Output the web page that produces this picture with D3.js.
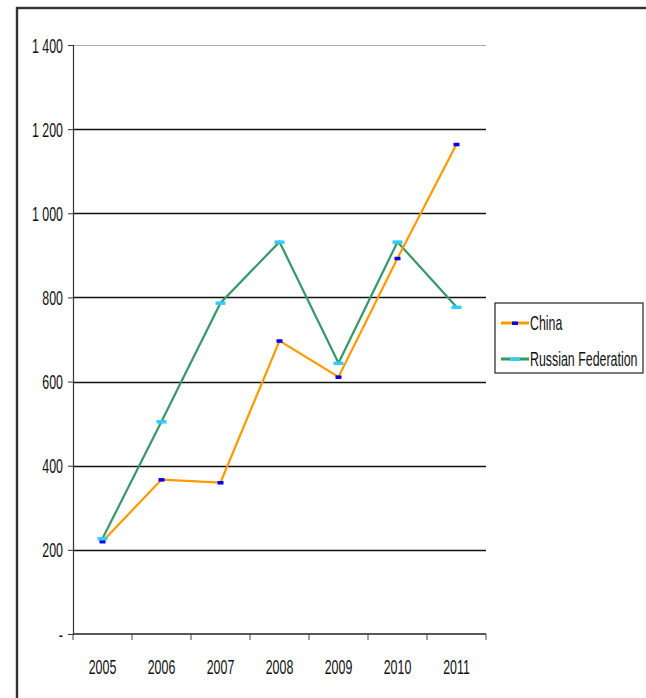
<!DOCTYPE html>
<html>
<head>
<meta charset="utf-8">
<script src="https://cdn.jsdelivr.net/npm/d3@7"></script>
<style>
  body { margin: 0; background: #fff; }
  svg text { font-family: "Liberation Sans", Arial, sans-serif; fill: #111; }
</style>
</head>
<body>
<div id="chart"></div>
<script>
// Chart data
const years = ['2005', '2006', '2007', '2008', '2009', '2010', '2011'];
const chinaValues = [220, 367, 360, 697, 611, 893, 1164];
const russiaValues = [227, 505, 787, 932, 644, 932, 777];
const yTicks = [0, 200, 400, 600, 800, 1000, 1200, 1400];

const seriesList = [
    { name: 'China', values: chinaValues, line: '#ff9900', marker: '#0000ee', mw: 6 },
    { name: 'Russian Federation', values: russiaValues, line: '#339966', marker: '#33ccff', mw: 10 }
];

const W = 646, H = 698;
const FONT = 20;     // text is drawn narrow, like the squeezed original
const SQUEEZE = 0.62;

const svg = d3.select('#chart').append('svg')
    .attr('width', W)
    .attr('height', H);

// place a squeezed text at x, y
function narrow(sel, px, py) {
    sel.attr('x', 0).attr('y', 0)
        .attr('transform', (d, i) => `translate(${px(d, i)},${py(d, i)}) scale(${SQUEEZE},1)`)
        .style('font-size', FONT + 'px');
}

// outer frame
svg.append('rect')
    .attr('x', 17).attr('y', 8)
    .attr('width', W + 20).attr('height', H + 20)
    .attr('fill', 'none')
    .attr('stroke', '#333')
    .attr('stroke-width', 2.4);

const x = d3.scaleBand()
    .domain(years)
    .range([73, 486])
    .padding(0);

const y = d3.scaleLinear()
    .domain([0, 1400])
    .range([634, 45]);

const fmt = d => d === 0 ? '-' : d3.format(',')(d).replace(',', ' ');

// gridlines
svg.append('g')
    .selectAll('line')
    .data(yTicks.filter(d => d > 0))
    .enter()
    .append('line')
    .attr('x1', x.range()[0])
    .attr('x2', x.range()[1])
    .attr('y1', d => Math.round(y(d)) + 0.5)
    .attr('y2', d => Math.round(y(d)) + 0.5)
    .attr('stroke', d => d === 1400 ? '#aaa' : '#111')
    .attr('stroke-width', d => d === 1400 ? 1 : 1.6);

// y axis
const yAxis = svg.append('g')
    .attr('transform', `translate(${x.range()[0]},0)`)
    .call(d3.axisLeft(y).tickValues(yTicks).tickFormat(fmt).tickSize(5));
yAxis.select('.domain').attr('stroke', '#333').attr('stroke-width', 1.2);
yAxis.selectAll('.tick line').attr('stroke', '#333');
yAxis.selectAll('.tick text')
    .attr('dy', null)
    .call(narrow, () => -10, () => 7);

// x axis: ticks on category boundaries
const xg = svg.append('g');
xg.append('line')
    .attr('x1', x.range()[0]).attr('x2', x.range()[1])
    .attr('y1', y(0)).attr('y2', y(0))
    .attr('stroke', '#222').attr('stroke-width', 1.6);
const bounds = years.map(d => x(d)).concat([x.range()[1]]);
xg.selectAll('.xtick')
    .data(bounds)
    .enter()
    .append('line')
    .attr('x1', d => d).attr('x2', d => d)
    .attr('y1', y(0)).attr('y2', y(0) + 6)
    .attr('stroke', '#444');
xg.selectAll('.xlabel')
    .data(years)
    .enter()
    .append('text')
    .attr('text-anchor', 'middle')
    .text(d => d)
    .call(narrow, d => x(d) + x.bandwidth() / 2, () => 674);

// lines
const line = d3.line()
    .x((d, i) => x(years[i]) + x.bandwidth() / 2)
    .y(d => y(d));

seriesList.slice().reverse().forEach(s => {
    svg.append('path')
        .datum(s.values)
        .attr('d', line)
        .attr('fill', 'none')
        .attr('stroke', s.line)
        .attr('stroke-width', 2.2);
});

seriesList.forEach(s => {
    svg.append('g')
        .selectAll('rect')
        .data(s.values)
        .enter()
        .append('rect')
        .attr('x', (d, i) => x(years[i]) + x.bandwidth() / 2 - s.mw / 2)
        .attr('y', d => y(d) - 1.5)
        .attr('width', s.mw)
        .attr('height', 3.5)
        .attr('fill', s.marker);
});

// legend
const legend = svg.append('g').attr('transform', 'translate(495,303)');
legend.append('rect')
    .attr('width', 148).attr('height', 70)
    .attr('fill', '#fff')
    .attr('stroke', '#222')
    .attr('stroke-width', 1.2);
seriesList.forEach((s, i) => {
    const ly = 20 + i * 36;
    legend.append('line')
        .attr('x1', 6).attr('x2', 34)
        .attr('y1', ly).attr('y2', ly)
        .attr('stroke', s.line).attr('stroke-width', 3);
    legend.append('rect')
        .attr('x', 20 - s.mw / 2).attr('y', ly - 1.5)
        .attr('width', s.mw).attr('height', 3.5)
        .attr('fill', s.marker);
    legend.append('text')
        .text(s.name)
        .call(narrow, () => 35, () => ly + 7);
});
</script>
</body>
</html>
